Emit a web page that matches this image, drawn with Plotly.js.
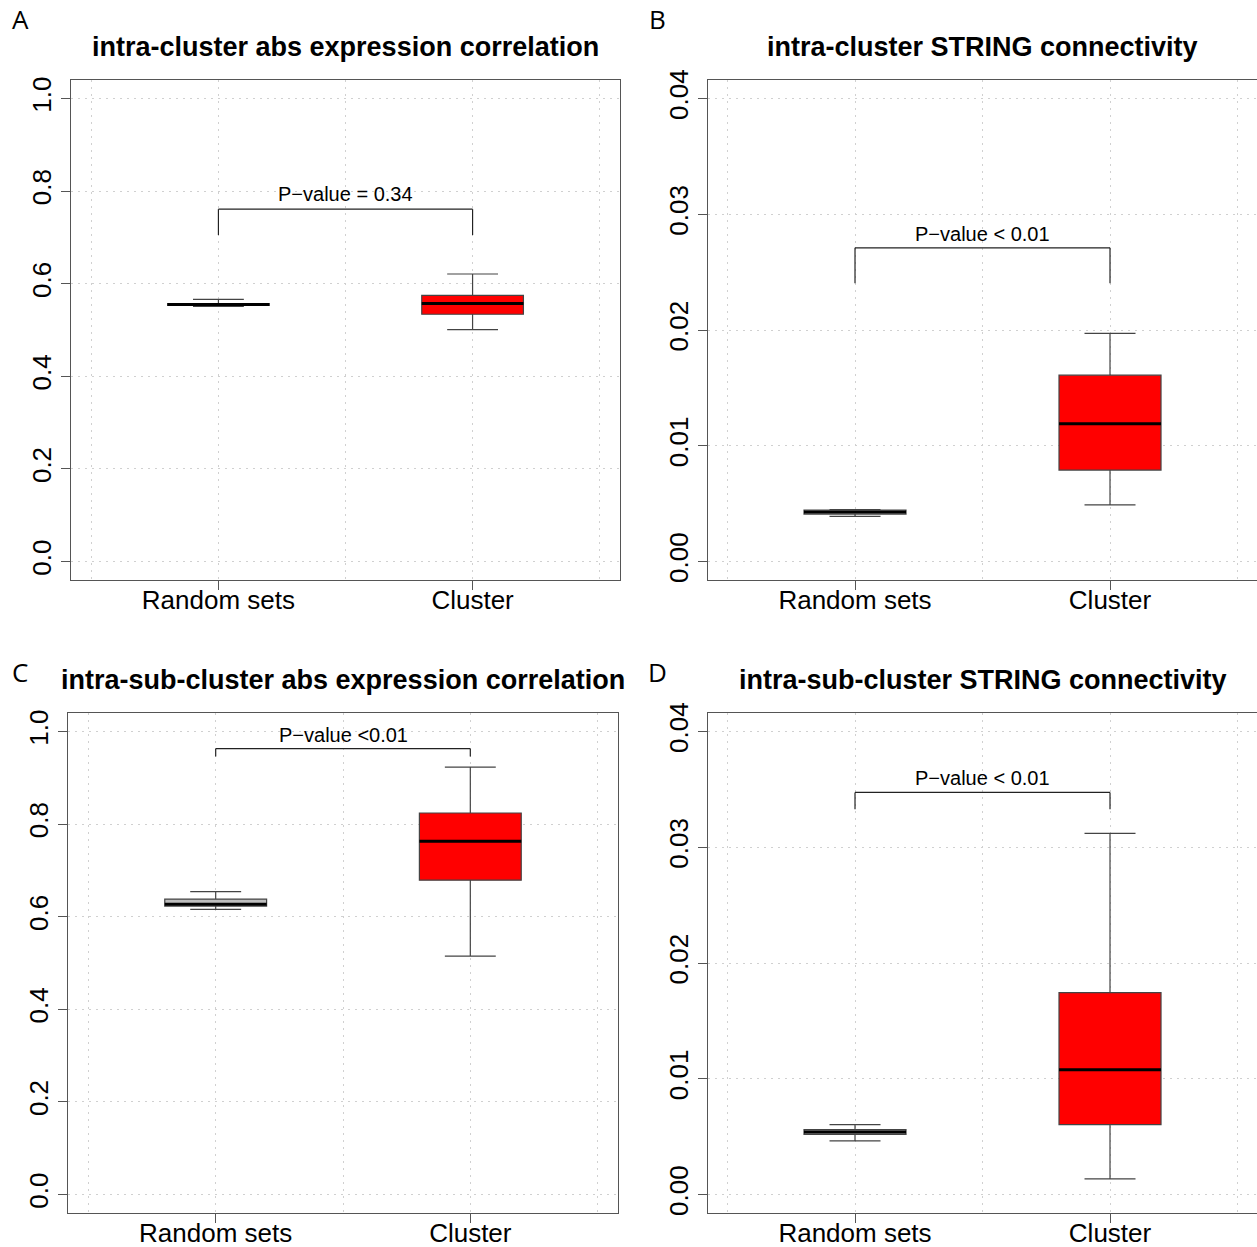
<!DOCTYPE html>
<html>
<head>
<meta charset="utf-8">
<script src="https://cdn.plot.ly/plotly-3.0.1.min.js"></script>
<style>html,body{margin:0;padding:0;background:#fff;}#chart{width:1257px;height:1247px;}</style>
</head>
<body>
<div id="chart"></div>
<script>
// ---- data ----
const categories = ["Random sets", "Cluster"];
const panelLabels = ["A", "B", "C", "D"];
const panelTitles = [
  "intra-cluster abs expression correlation",
  "intra-cluster STRING connectivity",
  "intra-sub-cluster abs expression correlation",
  "intra-sub-cluster STRING connectivity"
];
// box statistics per panel: [Random sets, Cluster]
const lowerFence = [[0.551, 0.501], [0.0039, 0.00489], [0.616, 0.515], [0.00463, 0.00135]];
const q1Values   = [[0.553, 0.534], [0.0041, 0.0079],  [0.623, 0.679], [0.0052, 0.00603]];
const medians    = [[0.555, 0.557], [0.00428, 0.0119], [0.627, 0.763], [0.0054, 0.01078]];
const q3Values   = [[0.557, 0.575], [0.00445, 0.0161], [0.638, 0.824], [0.0056, 0.01744]];
const upperFence = [[0.566, 0.621], [0.00448, 0.0197], [0.654, 0.923], [0.00603, 0.0312]];
// p-value annotation
const pvalueText   = ["P\u2212value = 0.34", "P\u2212value < 0.01", "P\u2212value <0.01", "P\u2212value < 0.01"];
const pvalueTextY  = [0.793, 0.0283, 0.9935, 0.0360];
const bracketTop   = [0.761, 0.0271, 0.963, 0.03474];
const bracketLeg   = [0.705, 0.02405, 0.946, 0.03328];
// y axis ticks
const yTicksCorr = [0, 0.2, 0.4, 0.6, 0.8, 1.0];
const yTickTextCorr = ["0.0", "0.2", "0.4", "0.6", "0.8", "1.0"];
const yTicksConn = [0, 0.01, 0.02, 0.03, 0.04];
const yTickTextConn = ["0.00", "0.01", "0.02", "0.03", "0.04"];
const yMax = [1.0, 0.04, 1.0, 0.04];

// ---- layout geometry ----
const W = 1257, H = 1247;
const plotBoxes = [ // left, right, top, bottom in pixels
  [71, 620, 80, 580],
  [708, 1257, 80, 580],
  [68, 618, 713, 1213],
  [708, 1257, 713, 1213]
];
const boxColors = ["#bebebe", "#ff0000"];
const lineCol = "#555555";
const gridCol = "#d0d0d0";

const traces = [];
const layout = {
  width: W, height: H,
  margin: {l: 0, r: 0, t: 0, b: 0},
  paper_bgcolor: "#ffffff",
  plot_bgcolor: "#ffffff",
  showlegend: false,
  font: {family: "Liberation Sans, Arial, sans-serif", color: "#000"},
  annotations: [],
  shapes: []
};

for (let p = 0; p < 4; p++) {
  const ax = p === 0 ? "" : String(p + 1);
  const xa = "x" + ax, ya = "y" + ax;
  const [l, r, t, b] = plotBoxes[p];
  const isCorr = (p % 2 === 0);
  const xr = p % 2 === 1 ? [0.4235, 0.4235 + (r - l) / 255] : [0.42, 2.58];
  layout["xaxis" + ax] = {
    domain: [l / W, r / W],
    anchor: ya,
    range: xr,
    tickmode: "array",
    tickvals: [1, 2],
    ticktext: categories,
    ticks: "outside", ticklen: 9, tickwidth: 1, tickcolor: lineCol,
    ticklabelstandoff: -12,
    tickfont: {size: 26, family: "Liberation Sans, Arial, sans-serif", color: "#000"},
    showline: true, linecolor: lineCol, linewidth: 1, mirror: true,
    showgrid: true, gridcolor: gridCol, griddash: "2px,5px", gridwidth: 1,
    minor: {tickmode: "array", tickvals: [0.5, 1.5, 2.5], showgrid: true, gridcolor: gridCol, griddash: "2px,5px", gridwidth: 1, ticks: ""},
    zeroline: false, fixedrange: true
  };
  layout["yaxis" + ax] = {
    domain: [(H - b) / H, (H - t) / H],
    anchor: xa,
    range: [-yMax[p] * 0.04, yMax[p] * 1.04],
    tickmode: "array",
    tickvals: isCorr ? yTicksCorr : yTicksConn,
    ticktext: isCorr ? yTickTextCorr : yTickTextConn,
    tickangle: -90,
    ticks: "outside", ticklen: 9, tickwidth: 1, tickcolor: lineCol,
    tickfont: {size: 26, family: "Liberation Sans, Arial, sans-serif", color: "#000"},
    showline: true, linecolor: lineCol, linewidth: 1, mirror: (p % 2 === 0),
    showgrid: true, gridcolor: gridCol, griddash: "2px,5px", gridwidth: 1,
    zeroline: false, fixedrange: true
  };

  for (let c = 0; c < 2; c++) {
    traces.push({
      type: "box", xaxis: xa, yaxis: ya,
      x: [c + 1],
      q1: [q1Values[p][c]], median: [medians[p][c]], q3: [q3Values[p][c]],
      lowerfence: [lowerFence[p][c]], upperfence: [upperFence[p][c]],
      width: 0.4, whiskerwidth: 0.5,
      fillcolor: boxColors[c],
      line: {color: "#444444", width: 1.2},
      boxpoints: false, hoverinfo: "skip"
    });
    // thick black median line
    traces.push({
      type: "box", xaxis: xa, yaxis: ya,
      x: [c + 1],
      q1: [medians[p][c]], median: [medians[p][c]], q3: [medians[p][c]],
      lowerfence: [medians[p][c]], upperfence: [medians[p][c]],
      width: 0.4, whiskerwidth: 0,
      fillcolor: "rgba(0,0,0,0)",
      line: {color: "#000000", width: 3},
      boxpoints: false, hoverinfo: "skip"
    });
  }

  // p-value bracket
  const bl = {color: "#222222", width: 1.2};
  layout.shapes.push({type: "line", xref: xa, yref: ya, x0: 1, x1: 2, y0: bracketTop[p], y1: bracketTop[p], line: bl});
  layout.shapes.push({type: "line", xref: xa, yref: ya, x0: 1, x1: 1, y0: bracketTop[p], y1: bracketLeg[p], line: bl});
  layout.shapes.push({type: "line", xref: xa, yref: ya, x0: 2, x1: 2, y0: bracketTop[p], y1: bracketLeg[p], line: bl});
  layout.annotations.push({
    xref: xa, yref: ya, x: 1.5, y: pvalueTextY[p], text: pvalueText[p],
    showarrow: false, xanchor: "center", yanchor: "middle",
    font: {size: 20, family: "Liberation Sans, Arial, sans-serif", color: "#000"}
  });

  // title
  layout.annotations.push({
    xref: "paper", yref: "paper", x: ((l + r) / 2) / W, y: (H - (t - 33)) / H,
    text: "<b>" + panelTitles[p] + "</b>", showarrow: false,
    xanchor: "center", yanchor: "middle",
    font: {size: 27, family: "Liberation Sans, Arial, sans-serif", color: "#000"}
  });
  // panel letter
  const lx = p % 2 === 0 ? 20 : 657;
  const ly = p < 2 ? 19 : 672;
  layout.annotations.push({
    xref: "paper", yref: "paper", x: lx / W, y: (H - ly) / H,
    text: panelLabels[p], showarrow: false, xanchor: "center", yanchor: "middle",
    font: {size: 26, family: "Open Sans, DejaVu Sans, sans-serif", color: "#000"}
  });
}

Plotly.newPlot("chart", traces, layout, {staticPlot: true, displayModeBar: false});
</script>
</body>
</html>
